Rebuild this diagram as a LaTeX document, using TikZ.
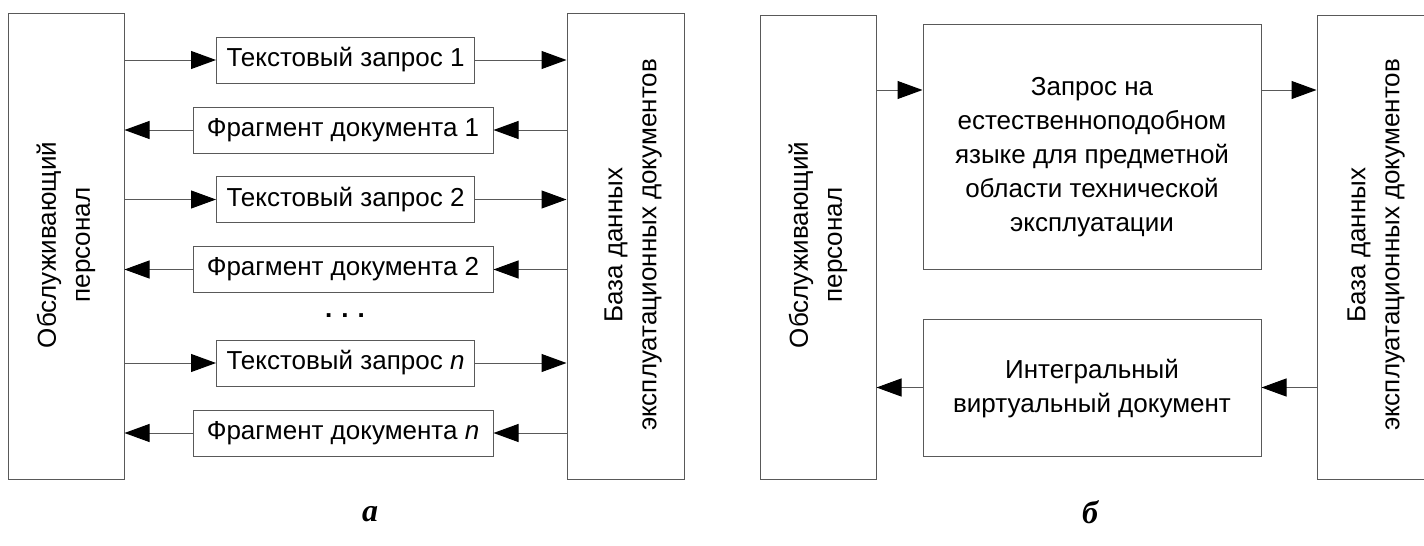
\documentclass[tikz,border=0pt]{standalone}
\usepackage{fontspec}
\setmainfont{Liberation Sans}
\newfontfamily\capfont{Liberation Serif}
\usetikzlibrary{arrows.meta}
\begin{document}
\begin{tikzpicture}[x=1pt,y=-1pt,
  box/.style={draw=black!65,line width=1pt,inner sep=0pt,fill=white},
  lbl/.style={font=\fontsize{26}{34}\selectfont,align=center,inner sep=0pt},
  vlbl/.style={lbl,rotate=90},
  arr/.style={draw=black!65,line width=1pt,-{Triangle[length=25pt,width=18pt,fill=black,color=black]}},
  panelcap/.style={font=\capfont\bfseries\itshape\fontsize{32}{34}\selectfont,inner sep=0pt}]
\useasboundingbox (0,0) rectangle (1424,546);
% ---------- panel a ----------
\node[box,minimum width=116pt,minimum height=466pt] (LP) at (66,246) {};
\node[vlbl] (LPt) at (66,245) {Обслуживающий\\персонал};
\node[box,minimum width=117pt,minimum height=466pt] (DB) at (625.5,246) {};
\node[vlbl] (DBt) at (633,245) {База данных\\эксплуатационных документов};
\node[box,lbl,minimum width=258pt,minimum height=46pt] (T1) at (345.5,60) {Текстовый запрос 1};
\node[box,lbl,minimum width=300pt,minimum height=46pt] (F1) at (343,130) {Фрагмент документа 1};
\node[box,lbl,minimum width=258pt,minimum height=46pt] (T2) at (345.5,199.5) {Текстовый запрос 2};
\node[box,lbl,minimum width=300pt,minimum height=46pt] (F2) at (343,269.5) {Фрагмент документа 2};
\node[lbl,font=\bfseries\fontsize{26}{34}\selectfont] (dots) at (345,316) {.\kern9pt.\kern9pt.};
\node[box,lbl,minimum width=258pt,minimum height=46pt] (Tn) at (345.5,363) {Текстовый запрос \textit{n}};
\node[box,lbl,minimum width=300pt,minimum height=46pt] (Fn) at (343,433) {Фрагмент документа \textit{n}};
\foreach \t in {T1,T2,Tn}{
  \draw[arr] (LP.east |- \t.west) -- (\t.west);
  \draw[arr] (\t.east) -- (DB.west |- \t.east);
}
\foreach \f in {F1,F2,Fn}{
  \draw[arr] (DB.west |- \f.east) -- (\f.east);
  \draw[arr] (\f.west) -- (LP.east |- \f.west);
}
\node[panelcap] (ca) at (370,514) {а};
% ---------- panel b ----------
\node[box,minimum width=116pt,minimum height=464pt] (LP2) at (818,247) {};
\node[vlbl] (LP2t) at (818,245) {Обслуживающий\\персонал};
\node[box,minimum width=117pt,minimum height=464pt] (DB2) at (1375.5,247) {};
\node[vlbl] (DB2t) at (1376,245) {База данных\\эксплуатационных документов};
\node[box,minimum width=338pt,minimum height=245pt] (Q) at (1092,146.5) {};
\node[lbl] (Qt) at (1092,157) {Запрос на\\естественноподобном\\языке для предметной\\области технической\\эксплуатации};
\node[box,minimum width=338pt,minimum height=137pt] (V) at (1092,387.5) {};
\node[lbl] (Vt) at (1092,389) {Интегральный\\виртуальный документ};
\draw[arr] (LP2.east |- 0,90) coordinate (a1) -- (Q.west |- a1);
\draw[arr] (Q.east |- 0,90) coordinate (a2) -- (DB2.west |- a2);
\draw[arr] (DB2.west |- V.east) -- (V.east);
\draw[arr] (V.west) -- (LP2.east |- V.west);
\node[panelcap] (cb) at (1090,512) {б};
\end{tikzpicture}
\end{document}
